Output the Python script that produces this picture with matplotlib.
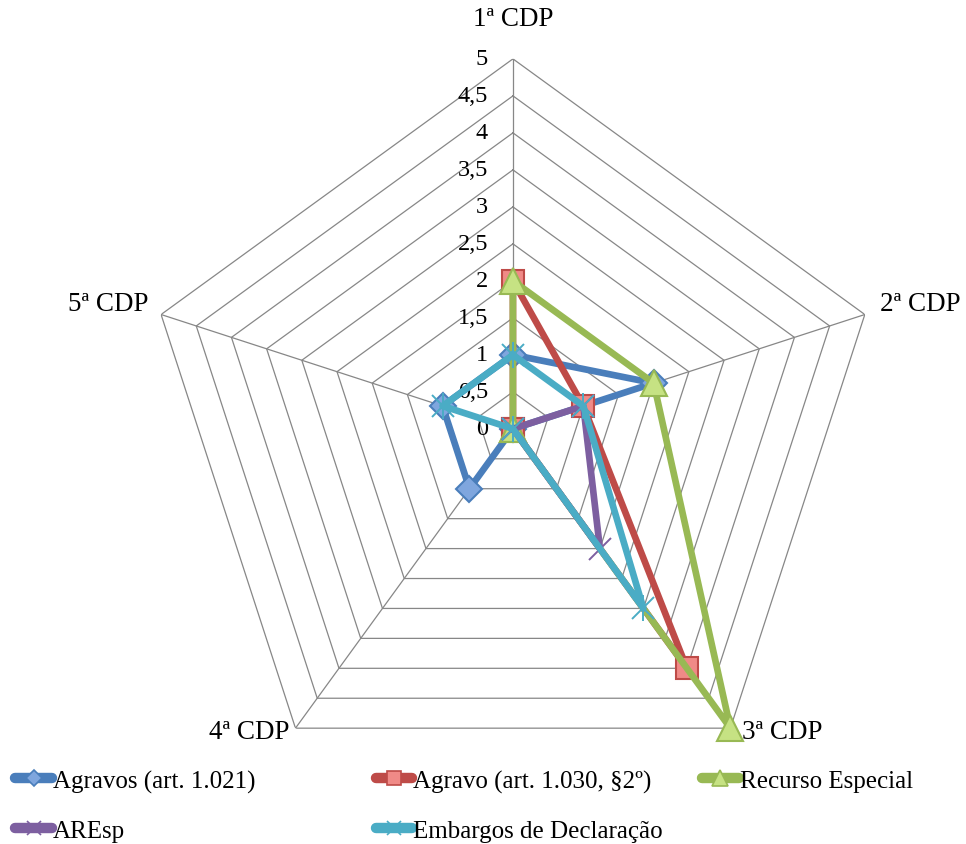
import numpy as np
import matplotlib.pyplot as plt
from matplotlib.lines import Line2D

plt.rcParams['font.family'] = ['Liberation Serif', 'DejaVu Serif']

# Radar axes (clockwise from the top)
categories = ["1ª CDP", "2ª CDP", "3ª CDP", "4ª CDP", "5ª CDP"]
levels = [0, 0.5, 1, 1.5, 2, 2.5, 3, 3.5, 4, 4.5, 5]
level_labels = ["0", "0,5", "1", "1,5", "2", "2,5", "3", "3,5", "4", "4,5", "5"]

# Series values per CDP
agravos_1021 = [1, 2, 0, 1, 1]
agravo_1030 = [2, 1, 4, 0, 0]
recurso_especial = [2, 2, 5, 0, 0]
aresp = [0, 1, 2, 0, 0]
embargos = [1, 1, 3, 0, 1]

series = [
    ("Agravos (art. 1.021)", agravos_1021, "#4A7EBB", "D", "#7FA6DE", 13),
    ("Agravo (art. 1.030, §2º)", agravo_1030, "#BE4B48", "s", "#F08A87", 16),
    ("Recurso Especial", recurso_especial, "#98B954", "^", "#C6E283", 19),
    ("AREsp", aresp, "#7D5FA0", "x", "#7D5FA0", 16),
    ("Embargos de Declaração", embargos, "#4AACC5", "x", "#4AACC5", 16),
]

n = len(categories)
theta = np.linspace(0, 2 * np.pi, n, endpoint=False)
theta_closed = np.append(theta, theta[0])

fig = plt.figure(figsize=(9.66, 8.45), dpi=100)
ax = fig.add_axes([0.148, 0.0533, 0.766, 0.876], projection='polar')
ax.set_theta_offset(np.pi / 2)
ax.set_theta_direction(-1)
ax.set_ylim(0, 5)
ax.grid(False)
ax.spines['polar'].set_visible(False)
ax.set_xticks([])
ax.set_yticks([])
ax.patch.set_alpha(0)

grid_color = "#878787"
# pentagon rings
for lv in levels[1:]:
    ax.plot(theta_closed, [lv] * (n + 1), color=grid_color, lw=0.9, zorder=1)
# spokes
for t in theta:
    ax.plot([t, t], [0, levels[-1]], color=grid_color, lw=0.9, zorder=1)

# value labels along the first axis
for lv, txt in zip(levels, level_labels):
    ax.annotate(txt, (0, lv), xytext=(-25, 0), textcoords='offset pixels',
                ha='right', va='center', fontsize=17.5, color='black')

# category labels
label_offsets = [(0, 40, 'center'), (15, 11, 'left'), (12, -3, 'left'),
                 (-6, -3, 'right'), (-13, 11, 'right')]
for t, name, (dx, dy, ha) in zip(theta, categories, label_offsets):
    ax.annotate(name, (t, 5), xytext=(dx, dy), textcoords='offset pixels',
                ha=ha, va='center', fontsize=19.5, color='black')

handles = []
for i, (name, vals, col, mk, fc, ms) in enumerate(series):
    v = np.append(vals, vals[0])
    z = 3 + i
    ax.plot(theta_closed, v, color=col, lw=4.8, zorder=z, solid_joinstyle='round')
    ax.plot(theta, vals, ls='none', marker=mk, ms=ms, mfc=fc, mec=col,
            mew=1.5 if mk != 'x' else 1.4, zorder=z + 0.5, clip_on=False)
    if name == "Embargos de Declaração":
        ax.plot(theta, vals, ls='none', marker='|', ms=ms + 3, mec=col,
                mew=1.4, zorder=z + 0.5, clip_on=False)
    h = Line2D([], [], color=col, lw=7.5, marker=mk, ms=ms * 0.6, mfc=fc, mec=col,
               mew=1.2, solid_capstyle='round')
    handles.append((h, name))

# legend entries laid out in two rows
legend_pos = [(0.016, 0.0746), (0.389, 0.0746), (0.727, 0.0746),
              (0.016, 0.0154), (0.389, 0.0154)]
for (h, name), (x, y) in zip(handles, legend_pos):
    fig.legend(handles=[h], labels=[name], loc='center left', bbox_to_anchor=(x, y),
               frameon=False, fontsize=18, handlelength=1.45, handletextpad=0.05,
               borderpad=0, borderaxespad=0)

fig.savefig("out.png", dpi=100)
